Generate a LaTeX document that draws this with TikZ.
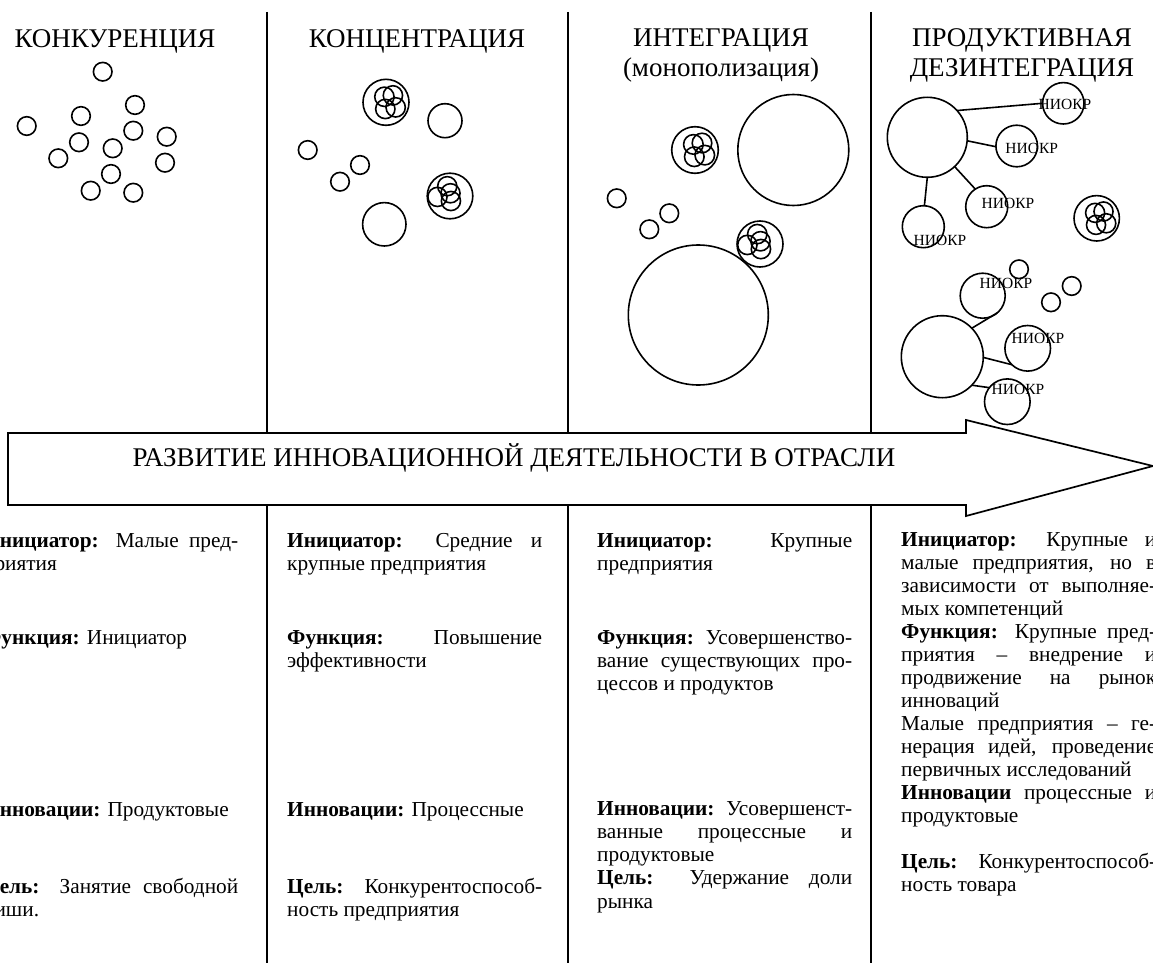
\documentclass[tikz,border=0pt]{standalone}
\usepackage{fontspec}
\setmainfont{Liberation Serif}
\newcommand\J[1]{\noindent\makebox[\linewidth][s]{#1}\par}
\newcommand\R[1]{\noindent #1\par}
\tikzset{
  circ/.style={line width=1.6pt},
  cnode/.style={circle, draw, line width=1.6pt, inner sep=0pt, outer sep=0pt},
  vline/.style={line width=1.5pt},
  head/.style={font=\fontsize{27}{30}\selectfont, align=center, inner sep=0pt},
  niokr/.style={font=\fontsize{15.5}{15.5}\selectfont, inner sep=0pt},
  para/.style={anchor=base west, inner sep=0pt},
  arrowshape/.style={draw, fill=white, line width=1.7pt, line join=miter}
}
% cluster type A: four merged circles in the upper right part
\newcommand\clusterA[3]{%
  \draw[circ] (#1,#2) circle[radius={#3pt}];
  \draw[circ] ({#1-0.07*#3},{#2-0.24*#3}) circle[radius={0.42*#3pt}];
  \draw[circ] ({#1+0.30*#3},{#2-0.30*#3}) circle[radius={0.42*#3pt}];
  \draw[circ] ({#1-0.03*#3},{#2+0.29*#3}) circle[radius={0.42*#3pt}];
  \draw[circ] ({#1+0.42*#3},{#2+0.22*#3}) circle[radius={0.42*#3pt}];
}
% cluster type B: circles pressed to the left
\newcommand\clusterB[3]{%
  \draw[circ] (#1,#2) circle[radius={#3pt}];
  \draw[circ] ({#1-0.12*#3},{#2-0.43*#3}) circle[radius={0.42*#3pt}];
  \draw[circ] ({#1+0.04*#3},{#2+0.22*#3}) circle[radius={0.42*#3pt}];
  \draw[circ] ({#1-0.55*#3},{#2+0.04*#3}) circle[radius={0.42*#3pt}];
  \draw[circ] ({#1+0.02*#3},{#2-0.12*#3}) circle[radius={0.42*#3pt}];
}
\newcommand\sm[2]{\draw[circ] (#1,#2) circle[radius=9.3pt];}
\newcommand\body[2]{%
  \begin{minipage}[t]{255pt}\fontsize{21.3}{#1}\selectfont\parskip=0pt\parindent=0pt #2\end{minipage}}
\begin{document}
\begin{tikzpicture}[x=1pt,y=-1pt]
\useasboundingbox (0,0) rectangle (1153,963);
\clip (0,0) rectangle (1153,963);
% column separators
\draw[vline] (267,12) -- (267,963);
\draw[vline] (568,12) -- (568,963);
\draw[vline] (871,12) -- (871,963);
% headers
\node[head, anchor=base] (h1) at (115,48) {КОНКУРЕНЦИЯ};
\node[head, anchor=base] (h2) at (417,48) {КОНЦЕНТРАЦИЯ};
\node[head, anchor=base] (h3) at (721,77) {ИНТЕГРАЦИЯ\\(монополизация)};
\node[head, anchor=base] (h4) at (1022,77) {ПРОДУКТИВНАЯ\\ДЕЗИНТЕГРАЦИЯ};
% column 1 circles
\sm{102.7}{71.7} \sm{135}{105} \sm{81}{116} \sm{26.7}{126} \sm{133.3}{130.7}
\sm{79}{142.3} \sm{166.7}{136.7} \sm{112.7}{148.3} \sm{58.3}{158.3}
\sm{165}{162.7} \sm{111}{174} \sm{90.7}{190.7} \sm{133.3}{192.7}
% column 2 circles
\clusterA{386}{102.3}{23}
\draw[circ] (445,120.7) circle[radius=17pt];
\sm{307.7}{150} \sm{360}{165} \sm{340}{181.7}
\clusterB{450}{196}{22.8}
\draw[circ] (384.3,224.3) circle[radius=21.7pt];
% column 3 circles
\clusterA{695}{150}{23.3}
\draw[circ] (793.3,150) circle[radius=55.5pt];
\sm{616.7}{198.3} \sm{669.3}{213.3} \sm{649.3}{229.3}
\clusterB{760}{244}{23}
\draw[circ] (698.3,315) circle[radius=70pt];
% column 4
\node[cnode, minimum size=80pt] (A) at (927.3,137.3) {};
\node[cnode, minimum size=41.4pt] (n1) at (1063.3,103.3) {};
\node[cnode, minimum size=41.6pt] (n2) at (1016.7,146) {};
\node[cnode, minimum size=42pt] (n3) at (986.7,206.7) {};
\node[cnode, minimum size=42pt] (n4) at (923.3,226.7) {};
\draw[circ] (A.42) -- (n1.180);
\draw[circ] (A.-5) -- (n2.182);
\draw[circ] (A.-47) -- (n3.123);
\draw[circ] (A.-90) -- (n4.87);
\node[niokr] (t1) at (1065,104) {НИОКР};
\node[niokr] (t2) at (1031.7,148.3) {НИОКР};
\node[niokr] (t3) at (1008,203.3) {НИОКР};
\node[niokr] (t4) at (940,240.7) {НИОКР};
\clusterA{1096.7}{218.3}{22.7}
\sm{1019}{269.3} \sm{1071.7}{286} \sm{1051}{302.3}
\node[cnode, minimum size=82pt] (B) at (942.3,356.7) {};
\node[cnode, minimum size=45pt] (n5) at (982.7,295.7) {};
\node[cnode, minimum size=45.6pt] (n6) at (1027.7,348.3) {};
\node[cnode, minimum size=45.6pt] (n7) at (1007.3,401.7) {};
\draw[circ] (B.44) -- (n5.-50);
\draw[circ] (B.-1) -- (n6.226);
\draw[circ] (B.-44) -- (n7.142);
\node[niokr] (t5) at (1006,283.3) {НИОКР};
\node[niokr] (t6) at (1038,338.3) {НИОКР};
\node[niokr] (t7) at (1018,389.3) {НИОКР};
% big arrow
\draw[arrowshape] (8,433) -- (966,433) -- (966,420) -- (1153,466) -- (966,516) -- (966,505) -- (8,505) -- cycle;
\node[font=\fontsize{27}{30}\selectfont, inner sep=0pt, anchor=base] (arr) at (514,466) {РАЗВИТИЕ ИННОВАЦИОННОЙ ДЕЯТЕЛЬНОСТИ В ОТРАСЛИ};
% column 1 texts
\node[para] (c1a) at (-17,547) {\body{23}{\J{\textbf{Инициатор:} Малые пред-}\R{приятия}}};
\node[para] (c1b) at (-17,644) {\body{23}{\R{\textbf{Функция:} Инициатор}}};
\node[para] (c1c) at (-17,816) {\body{23}{\R{\textbf{Инновации:} Продуктовые}}};
\node[para] (c1d) at (-17,893) {\body{23}{\J{\textbf{Цель:} Занятие свободной}\R{ниши.}}};
% column 2 texts
\node[para] (c2a) at (287,547) {\body{23}{\J{\textbf{Инициатор:} Средние и}\R{крупные предприятия}}};
\node[para] (c2b) at (287,644) {\body{23}{\J{\textbf{Функция:} Повышение}\R{эффективности}}};
\node[para] (c2c) at (287,816) {\body{23}{\R{\textbf{Инновации:} Процессные}}};
\node[para] (c2d) at (287,893) {\body{23}{\J{\textbf{Цель:} Конкурентоспособ-}\R{ность предприятия}}};
% column 3 texts
\node[para] (c3a) at (597,547) {\body{23}{\J{\textbf{Инициатор:} Крупные}\R{предприятия}}};
\node[para] (c3b) at (597,644) {\body{23}{\J{\textbf{Функция:} Усовершенство-}\J{вание существующих про-}\R{цессов и продуктов}}};
\node[para] (c3c) at (597,815) {\body{23.3}{\J{\textbf{Инновации:} Усовершенст-}\J{ванные процессные и}\R{продуктовые}\J{\textbf{Цель:} Удержание доли}\R{рынка}}};
% column 4 texts
\node[para] (c4) at (901,546) {\body{23}{\J{\textbf{Инициатор:} Крупные и}\J{малые предприятия, но в}\J{зависимости от выполняе-}\R{мых компетенций}\J{\textbf{Функция:} Крупные пред-}\J{приятия – внедрение и}\J{продвижение на рынок}\R{инноваций}\J{Малые предприятия – ге-}\J{нерация идей, проведение}\R{первичных исследований}\J{\textbf{Инновации} процессные и}\R{продуктовые}\R{\strut}\J{\textbf{Цель:} Конкурентоспособ-}\R{ность товара}}};
\end{tikzpicture}
\end{document}
